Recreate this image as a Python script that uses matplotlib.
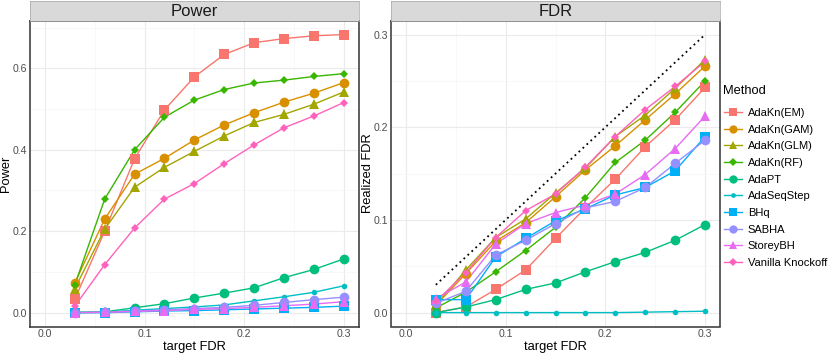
import numpy as np
import matplotlib
matplotlib.use("Agg")
import matplotlib.pyplot as plt
from matplotlib.lines import Line2D
from matplotlib.ticker import MultipleLocator

plt.rcParams["font.family"] = ["Liberation Sans", "DejaVu Sans"]

# target FDR levels
target_fdr = [0.03, 0.06, 0.09, 0.12, 0.15, 0.18, 0.21, 0.24, 0.27, 0.30]

methods = ["AdaKn(EM)", "AdaKn(GAM)", "AdaKn(GLM)", "AdaKn(RF)", "AdaPT",
           "AdaSeqStep", "BHq", "SABHA", "StoreyBH", "Vanilla Knockoff"]

# power curves
power_em = [0.033, 0.200, 0.378, 0.498, 0.579, 0.634, 0.663, 0.673, 0.680, 0.683]
power_gam = [0.073, 0.230, 0.340, 0.379, 0.424, 0.461, 0.491, 0.517, 0.539, 0.565]
power_glm = [0.059, 0.205, 0.308, 0.357, 0.396, 0.434, 0.467, 0.487, 0.512, 0.542]
power_rf = [0.068, 0.279, 0.400, 0.480, 0.522, 0.548, 0.564, 0.571, 0.580, 0.587]
power_adapt = [0.001, 0.002, 0.012, 0.022, 0.036, 0.048, 0.061, 0.086, 0.106, 0.132]
power_seqstep = [0.000, 0.001, 0.006, 0.010, 0.014, 0.019, 0.029, 0.039, 0.050, 0.066]
power_bhq = [0.000, 0.000, 0.002, 0.004, 0.005, 0.007, 0.009, 0.011, 0.013, 0.016]
power_sabha = [0.000, 0.001, 0.004, 0.007, 0.010, 0.013, 0.018, 0.025, 0.032, 0.038]
power_storey = [0.000, 0.001, 0.003, 0.005, 0.008, 0.010, 0.013, 0.017, 0.021, 0.027]
power_vanilla = [0.016, 0.118, 0.208, 0.279, 0.317, 0.366, 0.412, 0.454, 0.483, 0.516]

# realized FDR curves
fdr_em = [0.000, 0.006, 0.025, 0.046, 0.080, 0.113, 0.144, 0.179, 0.208, 0.243]
fdr_gam = [0.008, 0.042, 0.077, 0.097, 0.125, 0.154, 0.180, 0.208, 0.236, 0.266]
fdr_glm = [0.008, 0.046, 0.081, 0.101, 0.129, 0.156, 0.190, 0.213, 0.242, 0.273]
fdr_rf = [0.005, 0.022, 0.044, 0.067, 0.092, 0.124, 0.162, 0.186, 0.216, 0.250]
fdr_adapt = [0.000, 0.006, 0.014, 0.025, 0.032, 0.044, 0.055, 0.065, 0.078, 0.095]
fdr_seqstep = [0.000, 0.000, 0.000, 0.000, 0.000, 0.000, 0.000, 0.0005, 0.001, 0.0015]
fdr_bhq = [0.014, 0.014, 0.060, 0.080, 0.099, 0.112, 0.127, 0.135, 0.153, 0.190]
fdr_sabha = [0.010, 0.023, 0.062, 0.078, 0.096, 0.113, 0.120, 0.135, 0.161, 0.186]
fdr_storey = [0.015, 0.033, 0.074, 0.096, 0.108, 0.116, 0.128, 0.149, 0.177, 0.212]
fdr_vanilla = [0.012, 0.043, 0.081, 0.110, 0.128, 0.157, 0.190, 0.219, 0.244, 0.271]

power_all = [power_em, power_gam, power_glm, power_rf, power_adapt,
             power_seqstep, power_bhq, power_sabha, power_storey, power_vanilla]
fdr_all = [fdr_em, fdr_gam, fdr_glm, fdr_rf, fdr_adapt,
           fdr_seqstep, fdr_bhq, fdr_sabha, fdr_storey, fdr_vanilla]

# ggplot hue palette
colors = ["#F8766D", "#D89000", "#A3A500", "#39B600", "#00BF7D",
          "#00BFC4", "#00B0F6", "#9590FF", "#E76BF3", "#FF62BC"]
markers = ["s", "o", "^", "D", "o", "o", "s", "o", "^", "D"]
msizes = [7.0, 7.0, 7.5, 4.5, 7.0, 4.0, 7.0, 7.0, 7.5, 4.5]

W, H = 830, 353
fig = plt.figure(figsize=(W / 100, H / 100), dpi=100)


def panel(x0, x1, title, ylabel, ylim, ymajor):
    """Panel facon theme_bw avec bandeau gris au-dessus"""
    top, bottom = 20.7, 326.5
    ax = fig.add_axes([x0 / W, 1 - bottom / H, (x1 - x0) / W, (bottom - top) / H])
    strip = fig.add_axes([x0 / W, 1 - top / H, (x1 - x0) / W, 19.5 / H])
    strip.set_facecolor("#D9D9D9")
    strip.set_xticks([])
    strip.set_yticks([])
    for s in strip.spines.values():
        s.set_color("#A6A6A6")
        s.set_linewidth(0.5)
    strip.text(0.5, 0.45, title, ha="center", va="center", fontsize=12,
               color="#1A1A1A", transform=strip.transAxes)

    ax.set_xlim(-0.015, 0.315)
    ax.set_ylim(*ylim)
    ax.xaxis.set_major_locator(MultipleLocator(0.1))
    ax.xaxis.set_minor_locator(MultipleLocator(0.05))
    ax.yaxis.set_major_locator(MultipleLocator(ymajor))
    ax.yaxis.set_minor_locator(MultipleLocator(ymajor / 2))
    ax.xaxis.set_major_formatter(lambda v, p: f"{v:.1f}")
    ax.yaxis.set_major_formatter(lambda v, p: f"{v:.1f}")
    ax.grid(which="major", color="#EBEBEB", lw=0.8)
    ax.grid(which="minor", color="#F5F5F5", lw=0.5)
    ax.set_axisbelow(True)
    ax.tick_params(which="major", length=0, labelsize=7.6,
                   labelcolor="#4D4D4D", pad=2)
    ax.tick_params(which="minor", length=0)
    for s in ax.spines.values():
        s.set_color("#333333")
        s.set_linewidth(1.1)
    ax.set_xlabel("target FDR", fontsize=9.3, labelpad=1)
    ax.set_ylabel(ylabel, fontsize=9.3)
    # bord droit du titre vertical (texte tourne) en pixels
    ax.yaxis.set_label_coords(-17.5 / (x1 - x0), 0.5)
    return ax


def draw_lines(ax, series):
    for vals, c in zip(series, colors):
        ax.plot(target_fdr, vals, color=c, lw=1.0, zorder=2)
    for vals, c, m, ms in zip(series, colors, markers, msizes):
        ax.plot(target_fdr, vals, ls="none", marker=m, ms=ms, color=c,
                mec=c, mew=0, zorder=3)


ax1 = panel(30, 358.7, "Power", "Power", (-0.034, 0.717), 0.2)
draw_lines(ax1, power_all)

ax2 = panel(391, 720, "FDR", "Realized FDR", (-0.015, 0.315), 0.1)
ax2.plot([0.03, 0.30], [0.03, 0.30], color="black", ls=(0, (1, 2)), lw=1.3, zorder=2)
draw_lines(ax2, fdr_all)

fig.text(723 / W, 1 - 90.7 / H, "Method", fontsize=9.3, ha="left", va="center")
handles = [Line2D([], [], color=c, lw=1.0, marker=m, ms=ms * 0.85, mew=0)
           for c, m, ms in zip(colors, markers, msizes)]
leg = fig.legend(handles, methods, loc="upper left",
                 bbox_to_anchor=(720 / W, 1 - 103.5 / H), frameon=False,
                 fontsize=8, handlelength=1.6,
                 handletextpad=0.5, labelspacing=0.6, borderaxespad=0)

fig.savefig("out.png", dpi=100)
